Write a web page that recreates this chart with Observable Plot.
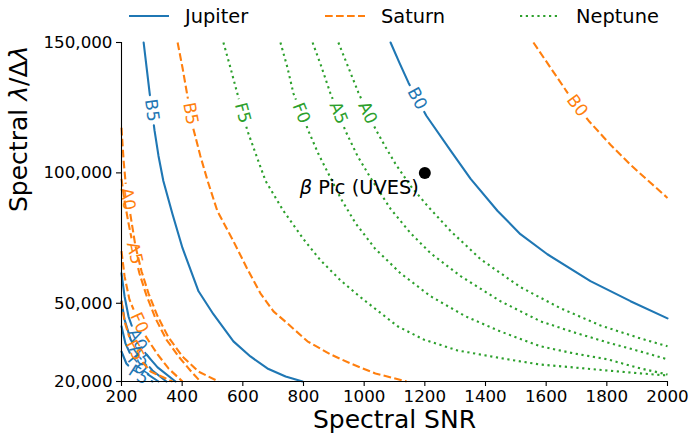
<!DOCTYPE html>
<html><head><meta charset="utf-8">
<script src="https://cdn.jsdelivr.net/npm/d3@7"></script>
<script src="https://cdn.jsdelivr.net/npm/@observablehq/plot@0.6"></script>
<style>
body{margin:0;background:#fff;font-family:"DejaVu Sans",sans-serif;}
#wrap{position:relative;width:689px;height:443px;}
#legend{position:absolute;left:0;top:0;width:689px;height:32px;z-index:2;}
</style></head><body>
<div id="wrap"><div id="chart"></div><div id="legend"></div></div>
<script>
// ---------- data ----------
const snrTicks = [200,400,600,800,1000,1200,1400,1600,1800,2000];
const resTicks = [20000,50000,100000,150000];

// Jupiter contours [SNR, R]
const jupiterB0 = [[1087,150000],[1116,142300],[1146,134600],[1205,121900],[1285,108500],[1351,97700],[1440,85400],[1515,76500],[1604,68800],[1746,58500],[1878,50800],[2000,44200]];
const jupiterB5 = [[273,150000],[284,139200],[293,130400],[309,116200],[322,106500],[338,96900],[368,84200],[401,71200],[454,54600],[503,45800],[569,35400],[625,29600],[681,25000],[741,21900],[797,20000]];
const jupiterA0 = [[200,61500],[210,52700],[223,45000],[246,37300],[279,30800],[319,25400],[378,20000]];
const jupiterA5 = [[200,50800],[210,43800],[230,36100],[263,29600],[302,24200],[348,20000]];
const jupiterF0 = [[200,41200],[213,34600],[236,28800],[273,23800],[322,20000]];
const jupiterF5 = [[200,31500],[216,26900],[246,23100],[302,20000]];

// Saturn contours
const saturnB0 = [[1558,150000],[1614,140400],[1670,130800],[1740,120000],[1812,110800],[1878,103100],[1944,96200],[2000,90400]];
const saturnB5 = [[385,150000],[401,140400],[416,130400],[436,117300],[460,106500],[484,96900],[516,85400],[569,73800],[615,63100],[658,53800],[701,46900],[747,42300],[813,35400],[889,30400],[955,26900],[1037,23100],[1140,20000]];
const saturnA0 = [[200,117300],[207,104600],[216,93100],[230,83500],[246,71900],[266,62300],[289,53800],[319,45000],[355,36900],[401,29600],[454,23800],[520,20000]];
const saturnA5 = [[200,97700],[210,89200],[223,80800],[240,70800],[259,61500],[282,53100],[312,44200],[348,36100],[388,29600],[427,24200],[460,20000]];
const saturnF0 = [[200,70000],[210,60400],[226,51500],[253,43800],[282,36900],[319,30400],[355,25000],[401,20000]];
const saturnF5 = [[200,50800],[210,43100],[230,35400],[256,29200],[296,23800],[368,20000]];

// Neptune contours
const neptuneA0 = [[915,150000],[948,140400],[981,130800],[1008,123800],[1037,116900],[1070,110000],[1103,103500],[1153,95000],[1209,87300],[1285,77700],[1384,66900],[1515,56200],[1647,48100],[1779,41500],[1911,36500],[2000,33500]];
const neptuneA5 = [[830,150000],[860,140400],[889,130400],[915,123100],[938,116200],[978,106500],[1021,98100],[1087,86200],[1153,76900],[1219,69200],[1318,60400],[1449,50800],[1581,43100],[1690,38900],[1802,35000],[1911,31500],[2000,28500]];
const neptuneF0 = [[724,150000],[747,140400],[767,130400],[816,116200],[849,107300],[889,98100],[922,90400],[971,80800],[1037,70800],[1120,61500],[1219,52700],[1334,45000],[1449,39200],[1581,33500],[1690,30800],[1802,28500],[1911,25000],[2000,22700]];
const neptuneF5 = [[536,150000],[559,140400],[582,130400],[615,116200],[645,106500],[675,96900],[734,85400],[800,74600],[856,66500],[922,58800],[988,52300],[1110,41200],[1196,36100],[1308,31900],[1473,28500],[1581,26500],[1690,25400],[1802,24200],[1911,23100],[2000,22300]];

// contour label placement (resolution value where each inline label sits)
const labelNames = ["B0","B5","A0","A5","F0","F5"];
const jupiterLabelR = [128500,124000,36000,30000,26500,22500];
const saturnLabelR  = [125800,122700,90000,69200,42500,32000];
const neptuneLabelR = [null,null,123000,123000,123000,123000];

const betaPic = [{name:"β Pic (UVES)", snr:1200, r:100000}];

const planets = [
  {name:"Jupiter", color:"#1f77b4", dash:null, curves:[jupiterB0,jupiterB5,jupiterA0,jupiterA5,jupiterF0,jupiterF5], labelR:jupiterLabelR},
  {name:"Saturn",  color:"#ff7f0e", dash:"7.7,3.3", curves:[saturnB0,saturnB5,saturnA0,saturnA5,saturnF0,saturnF5], labelR:saturnLabelR},
  {name:"Neptune", color:"#2ca02c", dash:"2.2,3.6", curves:[null,null,neptuneA0,neptuneA5,neptuneF0,neptuneF5], labelR:neptuneLabelR}
];

// ---------- layout ----------
const W = 689, H = 443;
const M = {top:42, right:22, bottom:62, left:121};
const xDomain = [snrTicks[0], snrTicks[snrTicks.length-1]];
const yDomain = [resTicks[0], resTicks[resTicks.length-1]];
const sx = d3.scaleLinear(xDomain, [M.left, W - M.right]);
const sy = d3.scaleLinear(yDomain, [H - M.bottom, M.top]);
const LABEL_FS = 17;
const ctx = document.createElement("canvas").getContext("2d");
ctx.font = LABEL_FS + 'px "DejaVu Sans"';

function build(planet, name, pts, labelR) {
  const P = pts.map(([s, r]) => [sx(s), sy(r)]);
  const cum = [0];
  for (let i = 1; i < P.length; i++) cum.push(cum[i-1] + Math.hypot(P[i][0]-P[i-1][0], P[i][1]-P[i-1][1]));
  const total = cum[cum.length-1];
  const toRow = (p, seg) => ({planet, seg: planet + name + seg, snr: sx.invert(p[0]), r: sy.invert(p[1])});
  const rows = [];
  let k = -1, t = 0;
  if (labelR != null) {
    const yL = sy(labelR);
    for (let i = 0; i < P.length - 1; i++) {
      const a = P[i][1], b = P[i+1][1];
      if ((a - yL) * (b - yL) <= 0 && a !== b) { k = i; t = (yL - a) / (b - a); break; }
    }
  }
  if (k < 0) { P.forEach(p => rows.push(toRow(p, "a"))); return {rows, label:null}; }
  const s0 = cum[k] + t * (cum[k+1] - cum[k]);
  const at = s => {
    s = Math.max(0, Math.min(total, s));
    for (let i = 0; i < P.length-1; i++) if (s <= cum[i+1]) {
      const u = (s - cum[i]) / ((cum[i+1] - cum[i]) || 1);
      return [P[i][0] + u*(P[i+1][0]-P[i][0]), P[i][1] + u*(P[i+1][1]-P[i][1])];
    }
    return P[P.length-1];
  };
  const c = at(s0);
  const half = ctx.measureText(name).width / 2 + 4;
  const a = s0 - half, b = s0 + half;
  const pa = at(a), pb = at(b);
  let ang = Math.atan2(pb[1]-pa[1], pb[0]-pa[0]) * 180 / Math.PI;
  if (ang > 90) ang -= 180; if (ang < -90) ang += 180;
  P.forEach((p, i) => { if (cum[i] < a) rows.push(toRow(p, "a")); });
  if (a > 0) rows.push(toRow(pa, "a"));
  if (b < total) rows.push(toRow(pb, "b"));
  P.forEach((p, i) => { if (cum[i] > b) rows.push(toRow(p, "b")); });
  return {rows, label: {planet, name, snr: sx.invert(c[0]), r: sy.invert(c[1]), angle: ang}};
}

const marks = [];
for (const pl of planets) {
  const rows = [], labels = [];
  pl.curves.forEach((pts, i) => {
    if (!pts) return;
    const res = build(pl.name, labelNames[i], pts, pl.labelR[i]);
    rows.push(...res.rows);
    if (res.label) labels.push(res.label);
  });
  marks.push(Plot.line(rows, {x:"snr", y:"r", z:"seg", stroke:pl.color, strokeWidth:2.1,
    strokeDasharray: pl.dash || undefined, strokeLinecap: pl.dash ? "butt" : "round"}));
  marks.push(Plot.text(labels, {x:"snr", y:"r", text:"name", rotate:"angle", fill:pl.color,
    fontSize:LABEL_FS, textAnchor:"middle", lineAnchor:"middle"}));
}

const yTitle = "Spectral λ/Δλ";
const chart = Plot.plot({
  width: W, height: H,
  marginTop: M.top, marginRight: M.right, marginBottom: M.bottom, marginLeft: M.left,
  style: {fontFamily: '"DejaVu Sans", sans-serif', fontSize: "16.7px", background: "white", color: "black", overflow: "visible"},
  x: {domain: xDomain, label: null, axis: null},
  y: {domain: yDomain, label: null, axis: null},
  marks: [
    ...marks,
    Plot.dot(betaPic, {x:"snr", y:"r", r:6, fill:"black"}),
    Plot.text(betaPic, {x:"snr", y:"r", text:"name", textAnchor:"end", dx:-6, dy:15, fontSize:19.4, fill:"black"}),
    Plot.axisX(snrTicks, {tickSize:5, tickPadding:4, fontSize:16.7, strokeWidth:1.1, tickFormat:d3.format("d"), label:null}),
    Plot.axisY(resTicks, {tickSize:5, tickPadding:4, fontSize:16.7, strokeWidth:1.1, tickFormat:d3.format(","), label:null}),
    Plot.ruleX([xDomain[0]], {stroke:"black", strokeWidth:1.1}),
    Plot.ruleY([yDomain[0]], {stroke:"black", strokeWidth:1.1}),
    Plot.text(["Spectral SNR"], {text: d => d, frameAnchor:"bottom", dy:46, fontSize:25, fill:"black"}),
    Plot.text([yTitle], {text: d => d, frameAnchor:"left", dx:-103, rotate:-90, fontSize:25, fill:"black"})
  ]
});
// mathtext-style italics
chart.querySelectorAll("text").forEach(t => {
  if (t.textContent === yTitle) t.innerHTML = 'Spectral <tspan font-style="italic">λ</tspan>/Δ<tspan font-style="italic">λ</tspan>';
  if (t.textContent === betaPic[0].name) t.innerHTML = '<tspan font-style="italic">β</tspan> Pic (UVES)';
});
document.getElementById("chart").appendChild(chart);

// ---------- legend ----------
const legend = document.getElementById("legend");
const handleX = [129, 325, 520];
planets.forEach((pl, i) => {
  const item = document.createElement("div");
  item.style.cssText = `position:absolute;left:${handleX[i]}px;top:0;height:32px;display:flex;align-items:center;`;
  const svgNS = "http://www.w3.org/2000/svg";
  const s = document.createElementNS(svgNS, "svg");
  s.setAttribute("width", 40); s.setAttribute("height", 10);
  const ln = document.createElementNS(svgNS, "line");
  ln.setAttribute("x1", 0); ln.setAttribute("x2", 40); ln.setAttribute("y1", 5); ln.setAttribute("y2", 5);
  ln.setAttribute("stroke", pl.color); ln.setAttribute("stroke-width", 2.1);
  if (pl.dash) ln.setAttribute("stroke-dasharray", pl.dash);
  s.appendChild(ln);
  const label = document.createElement("span");
  label.textContent = pl.name;
  label.style.cssText = 'margin-left:16px;font-size:19.4px;color:#000;font-family:"DejaVu Sans",sans-serif;';
  item.appendChild(s); item.appendChild(label);
  legend.appendChild(item);
});
</script></body></html>
